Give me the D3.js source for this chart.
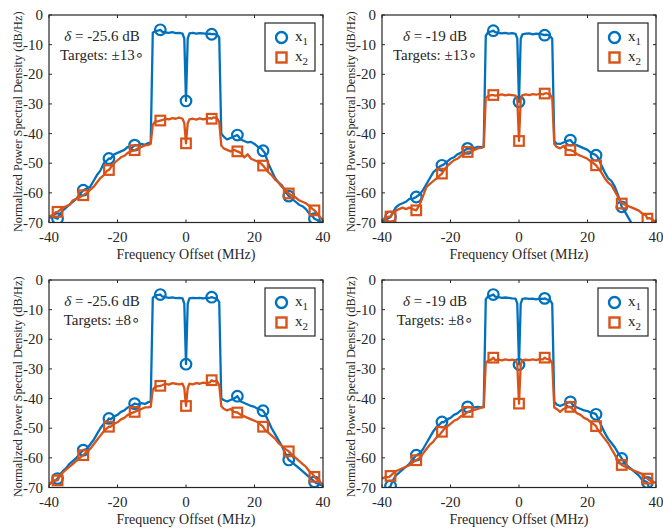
<!DOCTYPE html>
<html>
<head>
<meta charset="utf-8">
<script src="https://cdn.jsdelivr.net/npm/d3@7"></script>
<style>
body { margin: 0; background: #fff; }
text { font-family: "Liberation Serif", "Times New Roman", "DejaVu Serif", serif; fill: #262626; }
</style>
</head>
<body>
<div id="fig"></div>
<script>
// frequency grid (MHz), shared by all traces
var freq = [-40,-39,-38,-37.5,-37,-36,-35,-34,-33,-32,-31,-30,
  -29,-28,-27,-26,-25,-24,-23,-22.5,-22,-21,-20,
  -19,-18,-17,-16,-15,-14,-13,-12,-11,-10.3,
  -9.7,-9,-8,-7.5,-7,-6,-5,-4,-3,-2,-1,-0.5,
  0,
  0.5,1,2,3,4,5,6,7,7.5,8,9,9.7,
  10.3,11,12,13,14,15,16,17,18,19,
  20,21,22,22.5,23,24,25,26,27,28,29,
  30,31,32,33,34,35,36,37,37.5,38,39,40];

// delta = -25.6 dB, targets +-13
var psdA1 = [-68.5,-68,-68.5,-68.7,-67.5,-66,-65,-64,-63,-62,-60.5,-59.1,
  -58.5,-58,-56,-54,-52.5,-50,-49,-48.4,-48.5,-47,-46.5,
  -46,-45.5,-44.5,-45,-43.9,-44,-43.5,-43.8,-43.2,-43,
  -6,-5.5,-5.2,-5,-5.6,-5.9,-6,-5.8,-6.1,-6,-6.3,-8,
  -29,
  -8,-6.2,-6,-6.3,-6.1,-6.2,-6.4,-6.3,-6.5,-6.4,-6.6,-7.5,
  -40,-41,-42,-41.5,-41,-40.5,-42,-42.5,-43,-42.8,
  -43.5,-44.5,-45,-45.8,-46.5,-50,-52.5,-55,-56.5,-57.5,-59.5,
  -61.1,-62,-63,-64,-64.5,-65.5,-67,-68,-68.7,-69,-69.5,-70];
var psdA2 = [-68,-67.5,-66.5,-66.4,-66,-65,-64.5,-64,-62.5,-62,-61.5,-60.8,
  -60,-59,-58,-56.5,-55,-54,-52.5,-52.3,-51.5,-50,-49,
  -48,-47.5,-46.5,-46,-45.6,-45,-44.5,-44,-43.8,-43.5,
  -37,-36,-35.8,-35.6,-35.5,-35,-35.2,-34.8,-35,-34.6,-35,-36.5,
  -43.3,
  -36.5,-35.2,-35,-35.3,-34.9,-35.2,-35,-34.8,-35,-34.5,-34.8,-36,
  -44,-45,-45.5,-46,-45.5,-46,-46.5,-48,-47,-48.5,
  -49,-49.5,-50.2,-50.8,-51.5,-53,-54,-55.5,-56.5,-58,-59,
  -60.2,-61,-61.5,-62.5,-63,-63.5,-64.5,-65.5,-65.9,-66.5,-68,-69.3];

// delta = -19 dB, targets +-13
var psdB1 = [-70,-69,-68.5,-68.1,-67,-65,-64,-63.5,-63,-62,-62,-61.4,
  -60.5,-59,-57,-55,-53,-52,-51,-50.7,-50.5,-49.5,-48.5,
  -48,-47,-46.5,-45.8,-45,-45.2,-44.8,-44.5,-44.6,-44.3,
  -7,-5.8,-5.5,-5.3,-5.8,-6,-6.2,-6,-6.3,-6.1,-6.4,-8,
  -29.3,
  -8,-6.5,-6.3,-6.2,-6.5,-6.3,-6.4,-6.6,-6.8,-6.6,-7,-8,
  -42.5,-43.4,-43.5,-43,-42.5,-42.2,-43.5,-44,-44.5,-45,
  -45.5,-46.5,-47,-47.3,-48,-50.5,-53,-55,-56,-58,-61,
  -64.7,-66.5,-68.5,-70.5,-72,-73,-74,-75,-75.5,-76,-76.5,-77];
var psdB2 = [-69,-68.5,-68,-68,-67,-66,-65.5,-65,-65.5,-65,-65.5,-65.9,
  -64,-61,-58,-57,-56,-55,-54,-53.5,-52.5,-51,-50,
  -49,-48.5,-47.5,-47,-46.2,-46,-45.5,-45,-44.8,-44.5,
  -28,-27.3,-27,-27,-27.2,-27,-26.8,-27.1,-26.9,-27,-27.2,-28.5,
  -42.5,
  -28.5,-27,-26.8,-27,-26.7,-26.9,-26.6,-26.8,-26.5,-26.4,-26.7,-28,
  -43.5,-44.5,-45,-44.2,-45.5,-45.6,-46,-47,-47.5,-48,
  -48.5,-49.5,-50.2,-50.7,-51.5,-53,-55,-56.5,-57.5,-59.5,-61.5,
  -63.6,-64,-64.5,-65,-65.5,-66,-67,-67.5,-68.7,-68.5,-69,-70];

// delta = -25.6 dB, targets +-8
var psdC1 = [-69,-68,-67.5,-67,-66,-64.5,-63.5,-62,-61,-60,-58.5,-57.4,
  -57,-55.5,-54,-52,-50,-48.5,-47.5,-46.7,-47,-46,-45.5,
  -44.5,-44,-43,-42.5,-41.7,-42,-41.5,-41.8,-41.2,-41,
  -6,-5.3,-5,-4.9,-5.5,-5.8,-6,-5.9,-6.1,-6,-6.2,-8,
  -28.4,
  -8,-6.2,-6,-6.1,-6,-6.2,-6,-6,-5.8,-6,-6.3,-7.5,
  -40,-40.5,-41,-40.5,-40,-39.2,-41,-41.5,-42,-42.5,
  -42.8,-43.5,-43.8,-44.1,-45,-47.5,-50,-52,-54,-56,-58.5,
  -60.7,-61.5,-62.5,-63.5,-64.5,-65.5,-66.5,-67.5,-68.1,-68.5,-69,-69.5];
var psdC2 = [-69,-68,-67.5,-67.6,-66.5,-65,-64,-63,-62,-61,-60,-59.1,
  -58,-57,-55.5,-54,-52.5,-51,-50,-49.5,-49.5,-48.5,-48,
  -47,-46.5,-45.5,-45,-44.5,-44,-43.5,-43,-43,-42.8,
  -37,-36,-35.8,-35.7,-35.5,-35,-35.3,-34.8,-35,-35.2,-35,-36.5,
  -42.5,
  -36.5,-35,-35.2,-34.8,-35,-34.6,-34.8,-34.5,-33.8,-34.2,-34,-35.5,
  -42.5,-43.4,-44,-43.5,-44.5,-44.7,-45.5,-46,-46.5,-47,
  -47.5,-48,-49,-49.5,-50.5,-51.5,-52.5,-53.5,-55,-56,-57,
  -57.8,-59,-60,-61,-62,-63,-64.5,-65.5,-66.4,-67,-68,-69];

// delta = -19 dB, targets +-8
var psdD1 = [-72,-71,-70,-69.5,-68,-66,-65,-64,-63,-62,-60.5,-59.1,
  -58.5,-57,-55,-53,-51,-49.5,-48.5,-47.9,-48,-47,-46.5,
  -45.5,-45,-44,-43.5,-42.8,-43,-43,-42.8,-43,-42.8,
  -6.5,-5.5,-5.2,-4.9,-5.6,-5.8,-6,-5.9,-6,-6.2,-6.3,-8,
  -28.5,
  -8,-6.4,-6.2,-6.4,-6.3,-6.5,-6.3,-6.4,-6.2,-6.5,-6.7,-8,
  -41,-42,-42.5,-42,-41.5,-41.1,-42.5,-43,-43.5,-44,
  -44.2,-44.8,-45,-45.3,-46.5,-49,-51.5,-53.5,-55,-56.5,-58.5,
  -60.2,-62,-63,-64,-65,-66,-67.5,-68,-68.3,-70.5,-72,-73];
var psdD2 = [-67,-66.5,-66.5,-66.1,-65.5,-64.5,-64,-63.5,-63,-62.5,-61.5,-60.8,
  -60,-58.5,-57,-55.5,-54.5,-53,-52,-51.2,-50.5,-49.5,-48.5,
  -47.5,-47,-46,-45.5,-44.5,-44.2,-43.8,-43.5,-43,-43,
  -28,-27.2,-26.8,-26.2,-27,-26.9,-27.1,-26.8,-27,-26.9,-27.1,-28.5,
  -41.7,
  -28.5,-27,-26.9,-27,-26.8,-27,-26.7,-26.8,-26.2,-26.6,-26.8,-28,
  -43,-43.5,-44.5,-43.5,-43,-42.8,-44,-45,-45.5,-46.5,
  -47,-48,-48.8,-49.3,-50.5,-52,-53.5,-55,-57,-59,-61,
  -62.4,-63,-63.5,-64,-64.5,-65,-65.5,-66.5,-67,-67.5,-68,-68.5];

var markerFreq = [-37.5,-30,-22.5,-15,-7.5,0,7.5,15,22.5,30,37.5];
var deltaText = ["-25.6", "-19", "-25.6", "-19"];
var targetText = ["13", "13", "8", "8"];
var xTicks = [-40, -20, 0, 20, 40];
var yTicks = [0, -10, -20, -30, -40, -50, -60, -70];
var seriesNames = ["1", "2"];

var blue = "#0072BD", orange = "#D95319", axisCol = "#262626";

var panels = [
  {x: 49, y: 15, s1: psdA1, s2: psdA2, d: deltaText[0], t: targetText[0]},
  {x: 382, y: 15, s1: psdB1, s2: psdB2, d: deltaText[1], t: targetText[1]},
  {x: 49, y: 280, s1: psdC1, s2: psdC2, d: deltaText[2], t: targetText[2]},
  {x: 382, y: 280, s1: psdD1, s2: psdD2, d: deltaText[3], t: targetText[3]}
];

var W = 663, H = 529, pw = 274, ph = 207.5;

var svg = d3.select("#fig").append("svg")
  .attr("width", W).attr("height", H)
  .attr("font-family", "Liberation Serif, Times New Roman, serif");

panels.forEach(function(p, k) {
  var x = d3.scaleLinear().domain([-40, 40]).range([0, pw]);
  var y = d3.scaleLinear().domain([-70, 0]).range([ph, 0]);
  var g = svg.append("g").attr("transform", "translate(" + p.x + "," + p.y + ")");

  g.append("clipPath").attr("id", "clip" + k)
    .append("rect").attr("width", pw).attr("height", ph);

  var line = d3.line()
    .x(function(d, i) { return x(freq[i]); })
    .y(function(d) { return y(d); });

  var plot = g.append("g").attr("clip-path", "url(#clip" + k + ")");

  [[p.s1, blue, "circle"], [p.s2, orange, "square"]].forEach(function(s) {
    plot.append("path").datum(s[0])
      .attr("d", line)
      .attr("fill", "none").attr("stroke", s[1])
      .attr("stroke-width", 2.3).attr("stroke-linejoin", "round");
    var pts = markerFreq.map(function(f) {
      return {f: f, v: s[0][freq.indexOf(f)]};
    }).filter(function(d) { return d.v >= -70.5; });
    if (s[2] == "circle") {
      plot.selectAll(null).data(pts).enter().append("circle")
        .attr("cx", function(d) { return x(d.f); })
        .attr("cy", function(d) { return y(d.v); })
        .attr("r", 5.3).attr("fill", "none")
        .attr("stroke", s[1]).attr("stroke-width", 2.2);
    } else {
      plot.selectAll(null).data(pts).enter().append("rect")
        .attr("x", function(d) { return x(d.f) - 4.8; })
        .attr("y", function(d) { return y(d.v) - 4.8; })
        .attr("width", 9.6).attr("height", 9.6).attr("fill", "none")
        .attr("stroke", s[1]).attr("stroke-width", 2.2);
    }
  });

  // box + inward ticks
  g.append("rect").attr("width", pw).attr("height", ph)
    .attr("fill", "none").attr("stroke", axisCol).attr("stroke-width", 1.2);

  var tl = 3;
  xTicks.forEach(function(t) {
    g.append("line").attr("x1", x(t)).attr("x2", x(t)).attr("y1", ph).attr("y2", ph - tl)
      .attr("stroke", axisCol);
    g.append("line").attr("x1", x(t)).attr("x2", x(t)).attr("y1", 0).attr("y2", tl)
      .attr("stroke", axisCol);
    g.append("text").attr("x", x(t)).attr("y", ph + 19.5)
      .attr("text-anchor", "middle").style("font-size", "15px").text(t);
  });
  yTicks.forEach(function(t) {
    g.append("line").attr("x1", 0).attr("x2", tl).attr("y1", y(t)).attr("y2", y(t))
      .attr("stroke", axisCol);
    g.append("line").attr("x1", pw).attr("x2", pw - tl).attr("y1", y(t)).attr("y2", y(t))
      .attr("stroke", axisCol);
    g.append("text").attr("x", -6).attr("y", y(t) + 5)
      .attr("text-anchor", "end").style("font-size", "15px").text(t);
  });

  g.append("text").attr("x", pw / 2).attr("y", ph + 36)
    .attr("text-anchor", "middle").style("font-size", "14px")
    .text("Frequency Offset (MHz)");
  g.append("text")
    .attr("transform", "translate(-27," + (ph / 2 + 3) + ") rotate(-90)")
    .attr("text-anchor", "middle").style("font-size", "12.3px")
    .text("Normalized Power Spectral Density (dB/Hz)");

  // annotation
  var a1 = g.append("text").attr("x", 53).attr("y", 26)
    .attr("text-anchor", "middle").style("font-size", "15px");
  a1.append("tspan").style("font-style", "italic").text("\u03b4");
  a1.append("tspan").text(" = " + p.d + " dB");
  var a2 = g.append("text").attr("x", 53).attr("y", 45)
    .attr("text-anchor", "middle").style("font-size", "15px");
  a2.append("tspan").text("Targets: \u00b1" + p.t);
  a2.append("tspan").style("font-family", "DejaVu Sans").style("font-size", "15px").text("\u2218");

  // legend
  var lg = g.append("g").attr("transform", "translate(" + (pw - 58) + ",8)");
  lg.append("rect").attr("width", 50).attr("height", 48)
    .attr("fill", "#fff").attr("stroke", axisCol).attr("stroke-width", 1.2);
  lg.append("circle").attr("cx", 16.5).attr("cy", 14.5).attr("r", 5.5)
    .attr("fill", "none").attr("stroke", blue).attr("stroke-width", 2.4);
  lg.append("rect").attr("x", 11.5).attr("y", 29.5).attr("width", 10).attr("height", 10)
    .attr("fill", "none").attr("stroke", orange).attr("stroke-width", 2.4);
  seriesNames.forEach(function(n, i) {
    var tx = lg.append("text").attr("x", 30).attr("y", 18 + i * 20).style("font-size", "15px");
    tx.append("tspan").text("x");
    tx.append("tspan").attr("dy", 4).style("font-size", "11px").text(n);
  });
});
</script>
</body>
</html>
